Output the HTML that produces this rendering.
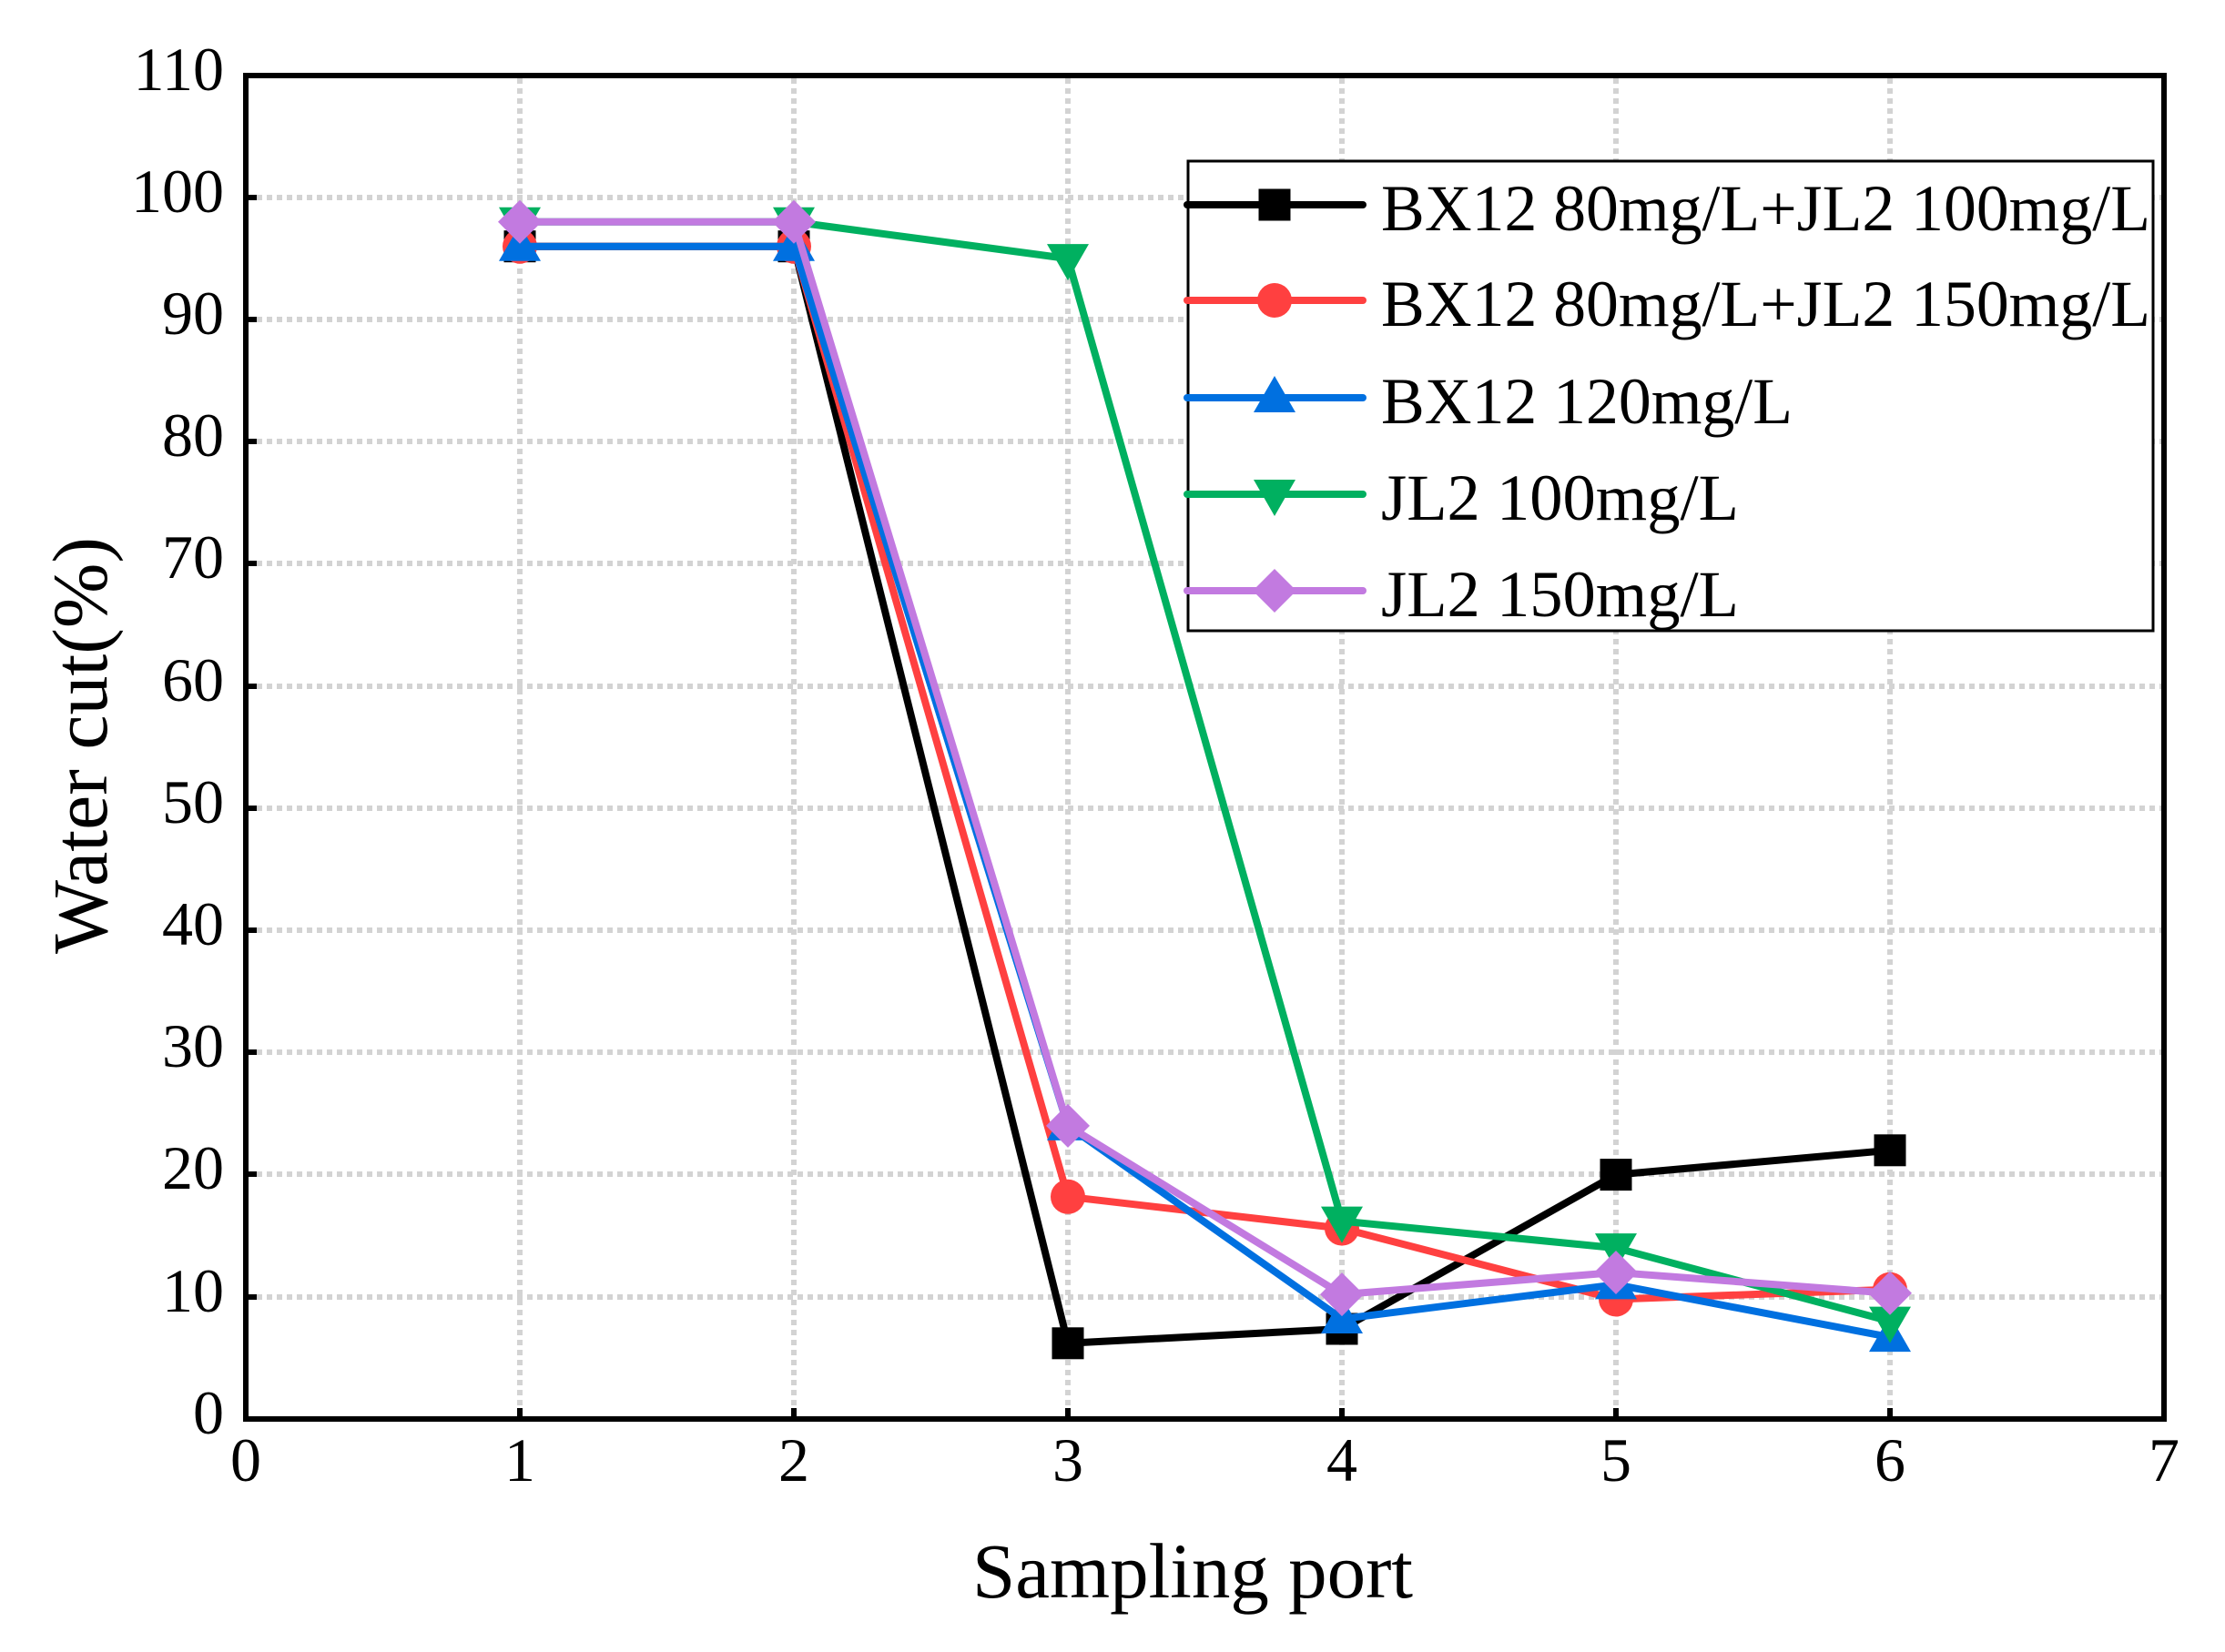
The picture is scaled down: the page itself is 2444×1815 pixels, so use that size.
<!DOCTYPE html>
<html><head><meta charset="utf-8"><style>html,body{margin:0;padding:0;background:#fff}svg{display:block}</style></head>
<body>
<svg width="2444" height="1815" viewBox="0 0 2444 1815" xmlns="http://www.w3.org/2000/svg" font-family="'Liberation Serif', serif">
<defs>
<rect id="sq" x="-17.5" y="-17.5" width="35" height="35" fill="#000"/>
<circle id="ci" r="19" fill="#ff4040"/>
<path id="tu" d="M0,-24 L23,16 L-23,16 Z" fill="#0070e0"/>
<path id="td" d="M0,24 L23,-16 L-23,-16 Z" fill="#00b060"/>
<path id="di" d="M0,-24 L24,0 L0,24 L-24,0 Z" fill="#c27ae0"/>
</defs>
<g stroke="#d3d3d3" stroke-width="6" stroke-dasharray="6 5" fill="none">
<path d="M571,86V1547M872,86V1547M1173,86V1547M1474,86V1547M1775,86V1547M2076,86V1547"/>
<path d="M282,217H2374M282,351H2374M282,485H2374M282,619H2374M282,754H2374M282,888H2374M282,1022H2374M282,1156H2374M282,1290H2374M282,1425H2374"/>
</g>
<g stroke="#000" stroke-width="6" fill="none">
<rect x="270" y="83" width="2107" height="1476"/>
<path d="M270,217h12M270,351h12M270,485h12M270,619h12M270,754h12M270,888h12M270,1022h12M270,1156h12M270,1290h12M270,1425h12"/>
<path d="M571,1559v-12M872,1559v-12M1173,1559v-12M1474,1559v-12M1775,1559v-12M2076,1559v-12"/>
</g>
<g font-size="68" text-anchor="end">
<text x="246" y="99">110</text><text x="246" y="233">100</text><text x="246" y="367">90</text><text x="246" y="501">80</text><text x="246" y="635">70</text><text x="246" y="770">60</text><text x="246" y="904">50</text><text x="246" y="1038">40</text><text x="246" y="1172">30</text><text x="246" y="1306">20</text><text x="246" y="1441">10</text><text x="246" y="1575">0</text>
</g>
<g font-size="68" text-anchor="middle">
<text x="270" y="1627">0</text><text x="571" y="1627">1</text><text x="872" y="1627">2</text><text x="1173" y="1627">3</text><text x="1474" y="1627">4</text><text x="1775" y="1627">5</text><text x="2076" y="1627">6</text><text x="2377" y="1627">7</text>
</g>
<text x="1068" y="1755" font-size="86" textLength="484" lengthAdjust="spacingAndGlyphs">Sampling port</text>
<text transform="translate(117,1048) rotate(-90)" font-size="86" textLength="458" lengthAdjust="spacingAndGlyphs">Water cut(%)</text>
<g fill="none" stroke-width="8" stroke-linejoin="round">
<polyline stroke="#000" points="571,270.7 872,270.7 1173,1475.8 1474,1460 1775,1290.6 2076,1263.8"/>
<g><use href="#sq" x="571" y="270.7"/><use href="#sq" x="872" y="270.7"/><use href="#sq" x="1173" y="1475.8"/><use href="#sq" x="1474" y="1460"/><use href="#sq" x="1775" y="1290.6"/><use href="#sq" x="2076" y="1263.8"/></g>
<polyline stroke="#ff4040" points="571,270.7 872,270.7 1173,1314.8 1474,1349.6 1775,1427.5 2076,1416.7"/>
<g><use href="#ci" x="571" y="270.7"/><use href="#ci" x="872" y="270.7"/><use href="#ci" x="1173" y="1314.8"/><use href="#ci" x="1474" y="1349.6"/><use href="#ci" x="1775" y="1427.5"/><use href="#ci" x="2076" y="1416.7"/></g>
<polyline stroke="#0070e0" points="571,270.7 872,270.7 1173,1236.9 1474,1449 1775,1411.4 2076,1469.1"/>
<g><use href="#tu" x="571" y="270.7"/><use href="#tu" x="872" y="270.7"/><use href="#tu" x="1173" y="1236.9"/><use href="#tu" x="1474" y="1449"/><use href="#tu" x="1775" y="1411.4"/><use href="#tu" x="2076" y="1469.1"/></g>
<polyline stroke="#00b060" points="571,243.8 872,243.8 1173,284.1 1474,1341.6 1775,1371.1 2076,1451.6"/>
<g><use href="#td" x="571" y="243.8"/><use href="#td" x="872" y="243.8"/><use href="#td" x="1173" y="284.1"/><use href="#td" x="1474" y="1341.6"/><use href="#td" x="1775" y="1371.1"/><use href="#td" x="2076" y="1451.6"/></g>
<polyline stroke="#c27ae0" points="571,243.8 872,243.8 1173,1236.9 1474,1422.1 1775,1398 2076,1420.8"/>
<g><use href="#di" x="571" y="243.8"/><use href="#di" x="872" y="243.8"/><use href="#di" x="1173" y="1236.9"/><use href="#di" x="1474" y="1422.1"/><use href="#di" x="1775" y="1398"/><use href="#di" x="2076" y="1420.8"/></g>
</g>
<rect x="1305" y="177" width="1060" height="516" fill="#fff" stroke="#000" stroke-width="3"/>
<g stroke-width="8" stroke-linecap="round">
<line x1="1304" y1="225" x2="1497" y2="225" stroke="#000"/><use href="#sq" x="1400" y="225"/>
<line x1="1304" y1="330" x2="1497" y2="330" stroke="#ff4040"/><use href="#ci" x="1400" y="330"/>
<line x1="1304" y1="437" x2="1497" y2="437" stroke="#0070e0"/><use href="#tu" x="1400" y="437"/>
<line x1="1304" y1="543" x2="1497" y2="543" stroke="#00b060"/><use href="#td" x="1400" y="543"/>
<line x1="1304" y1="649" x2="1497" y2="649" stroke="#c27ae0"/><use href="#di" x="1400" y="649"/>
</g>
<g font-size="72">
<text x="1517" y="253" textLength="845" lengthAdjust="spacingAndGlyphs">BX12 80mg/L+JL2 100mg/L</text>
<text x="1517" y="358" textLength="845" lengthAdjust="spacingAndGlyphs">BX12 80mg/L+JL2 150mg/L</text>
<text x="1517" y="465" textLength="452" lengthAdjust="spacingAndGlyphs">BX12 120mg/L</text>
<text x="1517" y="571" textLength="393" lengthAdjust="spacingAndGlyphs">JL2 100mg/L</text>
<text x="1517" y="677" textLength="393" lengthAdjust="spacingAndGlyphs">JL2 150mg/L</text>
</g>
</svg>
</body></html>
